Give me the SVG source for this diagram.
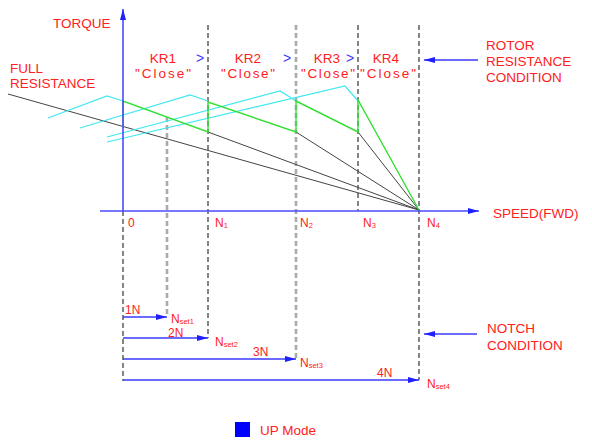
<svg xmlns="http://www.w3.org/2000/svg" width="592" height="443" viewBox="0 0 592 443">
<style>
  .t{font-family:"Liberation Sans",Arial,sans-serif;font-size:13.5px;fill:#ff2020}
  .ts{font-family:"Liberation Sans",Arial,sans-serif;font-size:12px;fill:#ff2020}
  .sub{font-size:7.5px}
  .ax{stroke:#4a4aff;stroke-width:1.6;fill:none}
  .arr{stroke:#3a3aff;stroke-width:1.4;fill:none}
  .dk{stroke:#444;stroke-width:1.3;stroke-dasharray:5,3;fill:none}
  .lt{stroke:#aaa;stroke-width:2.6;stroke-dasharray:5,3;fill:none}
  .bk{stroke:#444;stroke-width:1;fill:none}
  .cy{stroke:#40e8f0;stroke-width:1.2;fill:none}
  .gr{stroke:#33e033;stroke-width:1.4;fill:none}
  .bl{font-family:"Liberation Sans",Arial,sans-serif;font-size:14px;fill:#3a3aff}
</style>
<defs>
  <marker id="ah" markerUnits="userSpaceOnUse" markerWidth="12" markerHeight="8" refX="11" refY="4" orient="auto">
    <path d="M0,1 L11,4 L0,7 Z" fill="#2020ff"/>
  </marker>
</defs>
<g id="dashed-lines">
  <line class="dk" x1="123" y1="211" x2="123" y2="381"/>
  <line class="lt" x1="167" y1="117" x2="167" y2="316"/>
  <line class="dk" x1="208" y1="25" x2="208" y2="338"/>
  <line class="lt" x1="296" y1="25" x2="296" y2="359"/>
  <line class="dk" x1="358" y1="25" x2="358" y2="211"/>
  <line class="dk" x1="419" y1="25" x2="419" y2="380"/>
</g>
<g id="curves">
  <line class="bk" x1="8" y1="94" x2="419" y2="210"/>
  <line class="bk" x1="208" y1="132" x2="419" y2="210"/>
  <line class="bk" x1="296" y1="132" x2="419" y2="210"/>
  <line class="bk" x1="358" y1="132" x2="419" y2="210"/>
  <polyline class="cy" points="48,118 107,96 123,101"/>
  <polyline class="cy" points="80,128 190,95 208,101"/>
  <polyline class="cy" points="107,137 280,91 296,101"/>
  <polyline class="cy" points="107,142 345,86 359,102"/>
  <polyline class="gr" points="123,128 123,101 208,132 208,102 296,132 296,101 358,132 358,100 419,210"/>
</g>
<g id="axes">
  <line class="ax" x1="123" y1="211" x2="123" y2="9" marker-end="url(#ah)"/>
  <line class="ax" x1="100" y1="211" x2="479" y2="211" marker-end="url(#ah)"/>
</g>
<g id="connectors">
  <line class="arr" x1="478" y1="60" x2="424" y2="60" marker-end="url(#ah)"/>
  <line class="arr" x1="477" y1="334" x2="424" y2="334" marker-end="url(#ah)"/>
  <line class="arr" x1="123" y1="317" x2="167" y2="317" marker-end="url(#ah)"/>
  <line class="arr" x1="123" y1="338" x2="208" y2="338" marker-end="url(#ah)"/>
  <line class="arr" x1="123" y1="359" x2="296" y2="359" marker-end="url(#ah)"/>
  <line class="arr" x1="123" y1="380" x2="419" y2="380" marker-end="url(#ah)"/>
</g>
<g id="labels">
  <text class="t" x="53" y="28">TORQUE</text>
  <text class="t" x="10" y="73">FULL</text>
  <text class="t" x="10" y="88">RESISTANCE</text>
  <text class="t" x="163" y="63" text-anchor="middle">KR1</text>
  <text class="t" x="163" y="78" text-anchor="middle" textLength="56">"Close"</text>
  <text class="t" x="248" y="63" text-anchor="middle">KR2</text>
  <text class="t" x="248" y="78" text-anchor="middle" textLength="54">"Close"</text>
  <text class="t" x="327" y="63" text-anchor="middle">KR3</text>
  <text class="t" x="328" y="78" text-anchor="middle" textLength="54">"Close"</text>
  <text class="t" x="386" y="63" text-anchor="middle">KR4</text>
  <text class="t" x="388" y="78" text-anchor="middle" textLength="56">"Close"</text>
  <text class="bl" x="196" y="63">&gt;</text>
  <text class="bl" x="283" y="63">&gt;</text>
  <text class="bl" x="346" y="63">&gt;</text>
  <text class="t" x="486" y="50">ROTOR</text>
  <text class="t" x="486" y="66">RESISTANCE</text>
  <text class="t" x="486" y="82">CONDITION</text>
  <text class="ts" x="128" y="227">0</text>
  <text class="ts" x="215" y="227">N<tspan class="sub" dy="1">1</tspan></text>
  <text class="ts" x="300" y="227">N<tspan class="sub" dy="1">2</tspan></text>
  <text class="ts" x="363" y="227">N<tspan class="sub" dy="1">3</tspan></text>
  <text class="ts" x="427" y="227">N<tspan class="sub" dy="1">4</tspan></text>
  <text class="t" x="493" y="218">SPEED(FWD)</text>
  <text class="ts" x="125" y="314">1N</text>
  <text class="ts" x="171" y="323">N<tspan class="sub" dy="1">set1</tspan></text>
  <text class="ts" x="168" y="337">2N</text>
  <text class="ts" x="215" y="346">N<tspan class="sub" dy="1">set2</tspan></text>
  <text class="ts" x="253" y="356">3N</text>
  <text class="ts" x="300" y="367">N<tspan class="sub" dy="1">set3</tspan></text>
  <text class="ts" x="377" y="377">4N</text>
  <text class="ts" x="427" y="388">N<tspan class="sub" dy="1">set4</tspan></text>
  <text class="t" x="487" y="333">NOTCH</text>
  <text class="t" x="487" y="350">CONDITION</text>
</g>
<g id="legend">
  <rect x="235" y="422" width="15" height="15" fill="#0000ff"/>
  <text class="t" x="260" y="435">UP Mode</text>
</g>
</svg>
